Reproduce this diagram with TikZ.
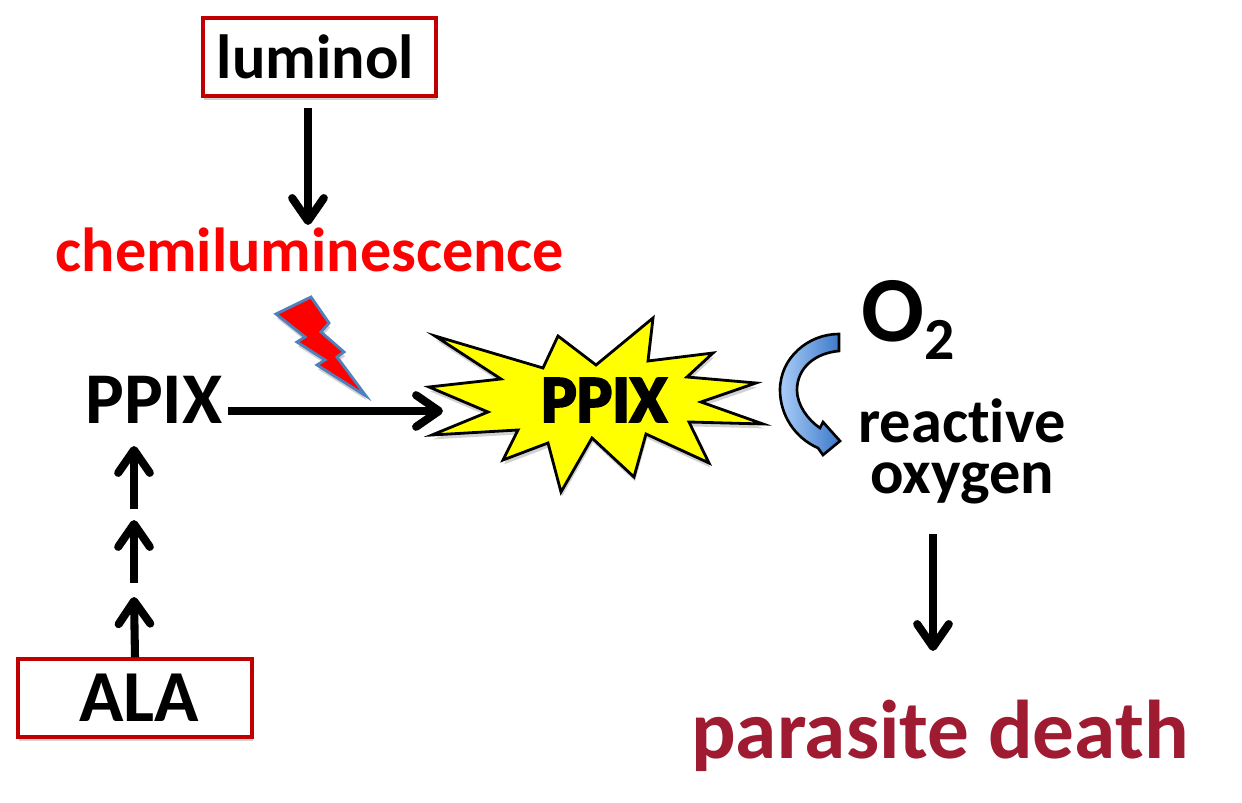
\documentclass[tikz,border=0pt]{standalone}
\usepackage{fontspec}
\setmainfont{Carlito}[Ligatures=NoCommon]
\newfontfamily\heavyfont[FakeBold=3.5,Ligatures=NoCommon]{Carlito Bold}
\usetikzlibrary{arrows.meta,shadows}
\definecolor{boxred}{RGB}{192,0,0}
\definecolor{deathred}{RGB}{158,27,50}
\definecolor{boltblue}{RGB}{79,129,189}
\definecolor{burstyellow}{RGB}{255,255,0}
\definecolor{curvelight}{RGB}{170,205,248}
\definecolor{curvedark}{RGB}{60,120,200}
\newcommand{\fsize}[1]{\fontsize{#1}{#1}\selectfont\bfseries}
\tikzset{
  softshadow/.style={drop shadow={shadow xshift=0.6pt,shadow yshift=-2.5pt,opacity=0.18,fill=black}},
  redbox/.style={draw=boxred,line width=2.2pt,fill=white,minimum width=3.74cm*1.25,minimum height=1.55cm,inner sep=0pt,softshadow},
  label/.style={inner sep=0pt,align=center},
  thickarrow/.style={line width=4.6pt,-{Straight Barb[round,length=13pt,width=18pt,line width=4.6pt]}}
}
\begin{document}
\begin{tikzpicture}[x=0.02cm,y=-0.02cm]
\useasboundingbox (0,0) rectangle (1242,803);

% boxes and labels
\node[redbox,label] (luminol) at (319.5,57) {\fsize{35.5}luminol\hspace{4.5pt}};
\node[redbox,label] (ala) at (135,698) {\hspace{4.5pt}\fsize{41.7}ALA};
\node[label,text=red] (chemi) at (310,250) {\fsize{35.4}chemiluminescence};
\node[label] (ppixleft) at (154,400) {\fsize{41.5}PPIX};
\node[label] (oxygen) at (908,320) {\fsize{53}O\raisebox{-10pt}{\fsize{34}2}};
\node[label,font=\fontsize{35.5}{29}\selectfont\bfseries] (reactive) at (962,451) {reactive\\oxygen};
\node[label,text=deathred] (death) at (940,736) {\fsize{47.4}parasite death};

% lightning bolt
\draw[draw=boltblue,fill=red,line width=1.6pt,line join=miter,softshadow]
  (311,297)--(329,323)--(321,332)--(344,352)--(337,357)--(366,396)--(317,365)--(325,360)
  --(297,342)--(305,337)--(276,314)--cycle;

% burst
\draw[fill=burstyellow,line width=1.6pt,line join=miter,softshadow]
  (435,336)--(543,368)--(558,336)--(596,365)--(653,318)--(648,361)--(713,353)--(687,377)
  --(756,383)--(701,402)--(763,424)--(689,422)--(709,463)--(646,434)--(634,477)--(592,438)
  --(561,492)--(548,443)--(503,460)--(518,430)--(432,435)--(488,412)--(429,387)--(501,379)--cycle;
\node[label] (ppixburst) at (604,400) {\heavyfont\fontsize{38}{38}\selectfont PPIX};

% curved arrow
\path[draw=black,line width=1.5pt,line join=miter,left color=curvelight,right color=curvedark]
  (839,334)--(839,351) .. controls (815,353) and (797,368) .. (797,390)
  .. controls (797,405) and (808,420) .. (820,428)
  --(823,422)--(840,441)--(823,455)--(818,448)
  .. controls (795,438) and (780,415) .. (780,390)
  .. controls (780,358) and (808,334) .. (839,334)--cycle;

% arrows
\coordinate (tipone) at (134,597);
\coordinate (tailtwo) at (134,583);
\coordinate (tiptwo) at (134,520);
\coordinate (tailthree) at (134,509);
\coordinate (tipthree) at (134,446);
\draw[thickarrow] (ala.north)--(tipone);
\draw[thickarrow] (tailtwo)--(tiptwo);
\draw[thickarrow] (tailthree)--(tipthree);

\coordinate (lumtail) at (308,108);
\coordinate (lumtip) at (308,225);
\draw[thickarrow] (lumtail)--(lumtip);

\coordinate (ppixtail) at (228,411);
\coordinate (ppixtip) at (443,411);
\draw[thickarrow] (ppixtail)--(ppixtip);

\coordinate (deathtail) at (933,534);
\coordinate (deathtip) at (933,651);
\draw[thickarrow] (deathtail)--(deathtip);
\end{tikzpicture}
\end{document}
